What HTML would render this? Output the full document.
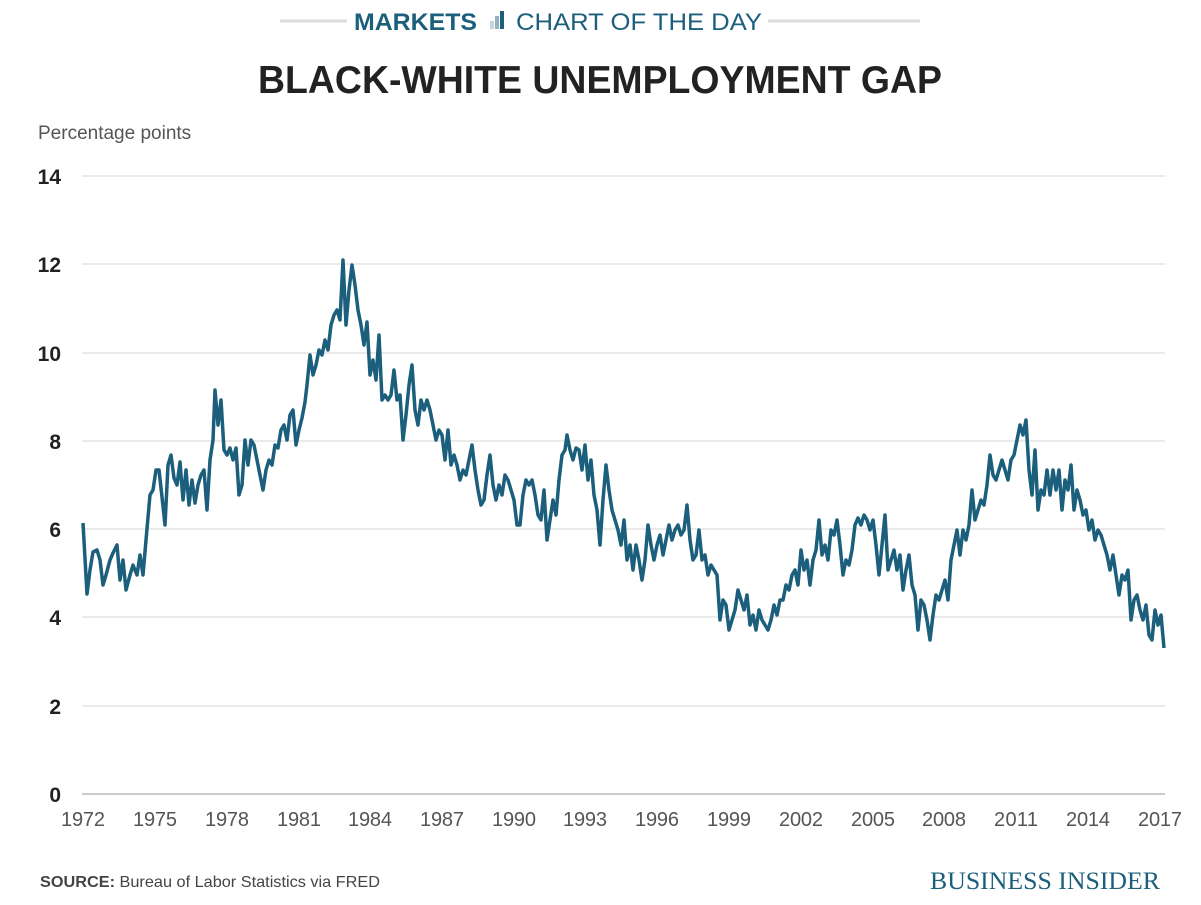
<!DOCTYPE html><html><head><style>body{margin:0;background:#fff;width:1201px;height:900px;overflow:hidden;font-family:"Liberation Sans",sans-serif}</style></head><body>
<svg width="1201" height="900" xmlns="http://www.w3.org/2000/svg" font-family="Liberation Sans, sans-serif">
<line x1="280" y1="21" x2="347" y2="21" stroke="#ddd" stroke-width="3"/><line x1="768" y1="21" x2="920" y2="21" stroke="#ddd" stroke-width="3"/>
<text x="354" y="30" font-size="24" font-weight="bold" fill="#1c5f7c" textLength="123" lengthAdjust="spacingAndGlyphs">MARKETS</text>
<rect x="490" y="21" width="4" height="8" fill="#c5d6df"/><rect x="495" y="16" width="4" height="13" fill="#8fb1c1"/><rect x="500" y="11" width="4" height="18" fill="#1c5f7c"/>
<text x="516" y="30" font-size="24" fill="#1c5f7c" textLength="246" lengthAdjust="spacingAndGlyphs">CHART OF THE DAY</text>
<text x="600" y="93" font-size="39" font-weight="bold" fill="#222" text-anchor="middle" textLength="684" lengthAdjust="spacingAndGlyphs">BLACK-WHITE UNEMPLOYMENT GAP</text>
<text x="38" y="139" font-size="19" fill="#555">Percentage points</text>
<g stroke="#e3e3e3" stroke-width="1.5">
<line x1="82" x2="1165" y1="176" y2="176"/><line x1="82" x2="1165" y1="264" y2="264"/><line x1="82" x2="1165" y1="353" y2="353"/><line x1="82" x2="1165" y1="441" y2="441"/><line x1="82" x2="1165" y1="529" y2="529"/><line x1="82" x2="1165" y1="617" y2="617"/><line x1="82" x2="1165" y1="706" y2="706"/></g>
<line x1="82" x2="1165" y1="794" y2="794" stroke="#bbb" stroke-width="1.5"/>
<g font-size="21" font-weight="bold" fill="#222" text-anchor="end">
<text x="61" y="184">14</text><text x="61" y="272">12</text><text x="61" y="361">10</text><text x="61" y="449">8</text><text x="61" y="537">6</text><text x="61" y="625">4</text><text x="61" y="714">2</text><text x="61" y="802">0</text></g>
<g font-size="20" fill="#555" text-anchor="middle" lengthAdjust="spacingAndGlyphs">
<text x="83" y="826" textLength="44">1972</text><text x="155" y="826" textLength="44">1975</text><text x="227" y="826" textLength="44">1978</text><text x="299" y="826" textLength="44">1981</text><text x="370" y="826" textLength="44">1984</text><text x="442" y="826" textLength="44">1987</text><text x="514" y="826" textLength="44">1990</text><text x="585" y="826" textLength="44">1993</text><text x="657" y="826" textLength="44">1996</text><text x="729" y="826" textLength="44">1999</text><text x="801" y="826" textLength="44">2002</text><text x="873" y="826" textLength="44">2005</text><text x="944" y="826" textLength="44">2008</text><text x="1016" y="826" textLength="44">2011</text><text x="1088" y="826" textLength="44">2014</text><text x="1160" y="826" textLength="44">2017</text></g>
<polyline fill="none" stroke="#1c5f7c" stroke-width="3.5" stroke-linejoin="round" points="83,523 87,594 90,570 93,552 97,550 100,560 103,585 106,575 110,560 113,553 117,545 120,580 123,560 126,590 130,575 133,565 137,575 140,555 143,575 146,540 150,495 153,490 156,470 159,470 162,497 165,525 168,465 171,455 174,478 177,485 180,462 183,500 186,470 189,505 192,480 195,503 198,485 201,475 204,470 207,510 210,460 213,440 215,390 218,425 221,400 224,450 227,455 230,448 233,460 236,448 239,495 242,485 245,440 248,465 251,440 254,445 257,460 260,475 263,490 266,470 269,460 272,465 275,445 278,448 281,430 284,425 287,440 290,415 293,410 296,445 299,430 302,418 305,402 307,385 310,355 313,375 316,365 319,350 322,355 325,340 328,350 331,325 334,315 337,310 340,320 343,260 346,325 349,290 352,265 355,285 358,310 361,325 364,345 367,322 370,375 373,360 376,380 379,335 382,400 385,395 388,400 391,395 394,370 397,400 400,395 403,440 406,415 409,385 412,365 415,410 418,425 421,400 424,410 427,400 430,410 433,425 436,440 439,430 442,435 445,460 448,430 451,465 454,455 457,465 460,480 463,470 466,475 469,460 472,445 475,470 478,490 481,505 484,500 487,475 490,455 493,485 496,500 499,485 502,495 505,475 508,480 511,490 514,500 517,525 520,525 523,495 526,480 529,485 532,480 535,495 538,515 541,520 544,490 547,540 550,520 553,500 556,515 559,480 562,455 565,450 567,435 570,450 573,460 576,448 579,450 582,470 585,445 588,480 591,460 594,495 597,510 600,545 603,500 606,465 609,490 612,510 615,520 618,530 621,545 624,520 627,560 630,545 633,570 636,545 639,560 642,580 645,560 648,525 651,545 654,560 657,545 660,535 663,555 666,540 669,525 672,540 675,530 678,525 681,535 684,530 687,505 690,540 693,560 696,555 699,530 702,560 705,555 708,575 711,565 714,570 717,575 720,620 723,600 726,605 729,630 732,620 735,610 738,590 741,600 744,610 747,595 750,625 753,615 756,630 759,610 762,620 765,625 768,630 771,620 774,605 777,615 780,600 783,600 786,585 789,590 792,575 795,570 798,585 801,550 804,570 807,560 810,585 813,560 816,550 819,520 822,555 825,545 828,560 831,530 834,535 837,520 840,545 843,575 846,560 849,565 852,550 855,525 858,518 861,525 864,515 867,520 870,530 873,520 876,545 879,575 882,545 885,515 888,570 891,560 894,550 897,570 900,555 903,590 906,570 909,555 912,585 915,595 918,630 921,600 924,605 927,620 930,640 933,615 936,595 939,600 942,590 945,580 948,600 951,560 954,545 957,530 960,555 963,530 966,540 969,525 972,490 975,520 978,510 981,500 984,505 987,485 990,455 993,475 996,480 999,470 1002,460 1005,470 1008,480 1011,460 1014,455 1017,440 1020,425 1023,435 1026,420 1029,470 1032,495 1035,450 1038,510 1041,490 1044,495 1047,470 1050,495 1053,470 1056,490 1059,470 1062,510 1065,480 1068,490 1071,465 1074,510 1077,490 1080,500 1083,515 1086,510 1089,530 1092,520 1095,540 1098,530 1101,535 1104,545 1107,555 1110,570 1113,555 1116,575 1119,595 1122,575 1125,580 1128,570 1131,620 1134,600 1137,595 1140,610 1143,620 1146,605 1149,635 1152,640 1155,610 1158,625 1161,615 1164,648"/>
<text x="40" y="887" font-size="16" fill="#444" textLength="340" lengthAdjust="spacingAndGlyphs"><tspan font-weight="bold">SOURCE:</tspan> Bureau of Labor Statistics via FRED</text>
<text x="1160" y="889" font-size="25" fill="#1c5f7c" text-anchor="end" font-family="Liberation Serif, serif" textLength="230" lengthAdjust="spacingAndGlyphs">BUSINESS INSIDER</text>
</svg></body></html>
